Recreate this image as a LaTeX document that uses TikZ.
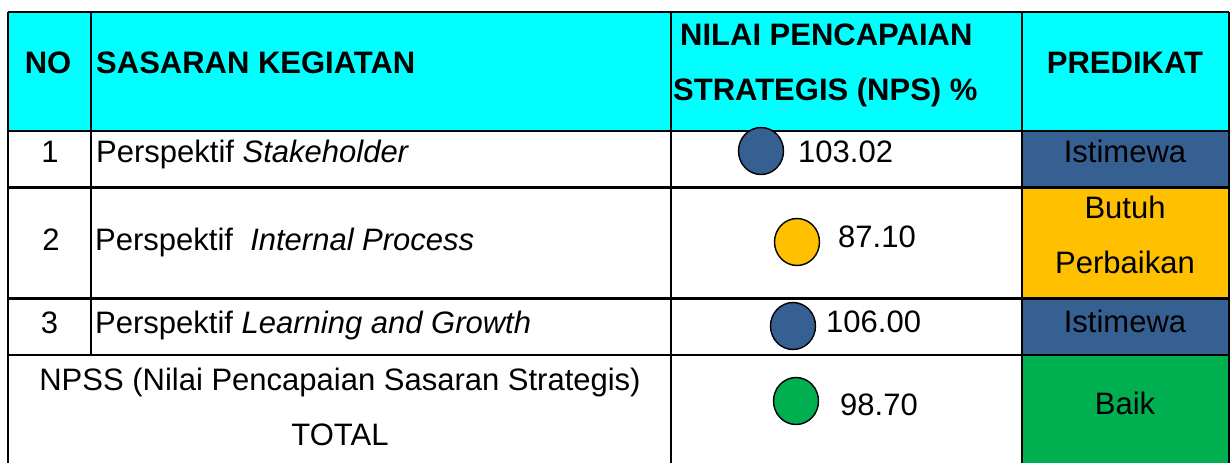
\documentclass[tikz,border=0pt]{standalone}
\usepackage{fontspec}
\setmainfont{Liberation Sans}
\usetikzlibrary{shapes.geometric}
\definecolor{hdrcyan}{HTML}{00FFFF}
\definecolor{predblue}{HTML}{366092}
\definecolor{predyellow}{HTML}{FFC000}
\definecolor{predgreen}{HTML}{00B050}
\tikzset{
  txt/.style={inner sep=0pt, font=\fontsize{31}{37}\selectfont},
  hdr/.style={txt, font=\fontsize{31}{37}\selectfont\bfseries},
  grid/.style={line width=2.6pt, black},
  dot/.style={ellipse, draw=black, line width=1.4pt, minimum width=45pt, minimum height=47pt, inner sep=0pt}
}
\begin{document}
\begin{tikzpicture}[x=1pt, y=-1pt]
\useasboundingbox (0,0) rectangle (1231,463);
% fills
\fill[hdrcyan] (8,12) rectangle (1229,131);
\fill[predblue] (1022,131) rectangle (1229,187.5);
\fill[predyellow] (1022,187.5) rectangle (1229,298.5);
\fill[predblue] (1022,298.5) rectangle (1229,355);
\fill[predgreen] (1022,355) rectangle (1229,463);
% grid
\draw[grid] (8,12) -- (1229,12);
\draw[grid] (8,131) -- (1229,131);
\draw[grid] (8,187.5) -- (1229,187.5);
\draw[grid] (8,298.5) -- (1229,298.5);
\draw[grid] (8,355) -- (1229,355);
\draw[grid] (8,12) -- (8,463);
\draw[grid] (91,12) -- (91,355);
\draw[grid] (671,12) -- (671,463);
\draw[grid] (1022,12) -- (1022,463);
\draw[grid] (1229,12) -- (1229,463);
% header
\node[hdr, anchor=base] (hNo) at (48,73) {NO};
\node[hdr, anchor=base west] (hSas) at (96,73) {SASARAN KEGIATAN};
\node[hdr, anchor=base west] (hNpsA) at (680,45) {NILAI PENCAPAIAN};
\node[hdr, anchor=base west] (hNpsB) at (673,100) {STRATEGIS (NPS) \%};
\node[hdr, anchor=base] (hPred) at (1125,73) {PREDIKAT};
% row 1
\node[txt, anchor=base] (r1no) at (50,162) {1};
\node[txt, anchor=base west] (r1s) at (96,162) {Perspektif \textit{Stakeholder}};
\node[dot, fill=predblue] (c1) at (761,151) {};
\node[txt, anchor=base west] (v1) at (798,162) {103.02};
\node[txt, anchor=base] (p1) at (1125,162) {Istimewa};
% row 2
\node[txt, anchor=base] (r2no) at (51,250) {2};
\node[txt, anchor=base west] (r2s) at (95,250) {Perspektif\ \ \textit{Internal Process}};
\node[dot, fill=predyellow] (c2) at (797,242) {};
\node[txt, anchor=base west] (v2) at (838,247) {87.10};
\node[txt, anchor=base] (p2a) at (1125,218) {Butuh};
\node[txt, anchor=base] (p2b) at (1125,273) {Perbaikan};
% row 3
\node[txt, anchor=base] (r3no) at (49.5,333) {3};
\node[txt, anchor=base west] (r3s) at (95,333) {Perspektif \textit{Learning and Growth}};
\node[dot, fill=predblue] (c3) at (793,326) {};
\node[txt, anchor=base west] (v3) at (826,332) {106.00};
\node[txt, anchor=base] (p3) at (1125,332) {Istimewa};
% total
\node[txt, anchor=base] (t1) at (340,390) {NPSS (Nilai Pencapaian Sasaran Strategis)};
\node[txt, anchor=base] (t2) at (340,445) {TOTAL};
\node[dot, fill=predgreen] (c4) at (796,401) {};
\node[txt, anchor=base west] (v4) at (840,415) {98.70};
\node[txt, anchor=base] (p4) at (1125,414) {Baik};
\end{tikzpicture}
\end{document}
